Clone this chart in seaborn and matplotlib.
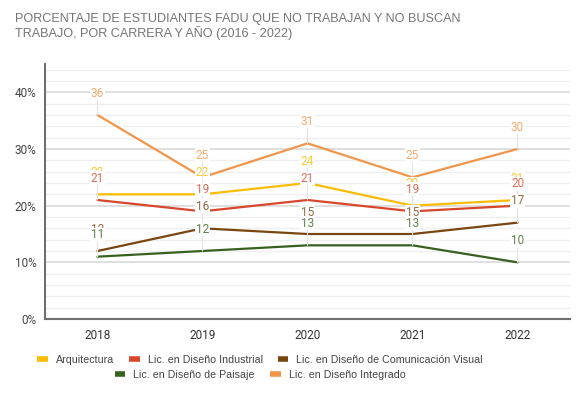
import numpy as np
import pandas as pd
import matplotlib
matplotlib.use('Agg')
import matplotlib.pyplot as plt
import seaborn as sns
from matplotlib.lines import Line2D
from matplotlib.colors import to_rgba

# Datos
anios = [2018, 2019, 2020, 2021, 2022]
carreras = ['Arquitectura', 'Lic. en Diseño Industrial',
            'Lic. en Diseño de Comunicación Visual',
            'Lic. en Diseño de Paisaje', 'Lic. en Diseño Integrado']
arquitectura = [22, 22, 24, 20, 21]
industrial = [21, 19, 21, 19, 20]
comunicacion = [12, 16, 15, 15, 17]
paisaje = [11, 12, 13, 13, 10]
integrado = [36, 25, 31, 25, 30]
colores = ['#fbbc04', '#d8462c', '#7a4610', '#38601f', '#f0954a']

valores = [arquitectura, industrial, comunicacion, paisaje, integrado]
df = pd.DataFrame({
    'anio': anios * len(carreras),
    'carrera': [c for c in carreras for _ in anios],
    'valor': [v for serie in valores for v in serie],
})
paleta = dict(zip(carreras, colores))

sns.set_style('white')
plt.rcParams['font.family'] = ['Liberation Sans', 'DejaVu Sans']

fig = plt.figure(figsize=(5.86, 3.97), dpi=100)
ax = fig.add_axes([45 / 586, 1 - 319 / 397, 525 / 586, 255 / 397])

sns.lineplot(data=df, x='anio', y='valor', hue='carrera', palette=paleta,
             hue_order=carreras, linewidth=1.6, legend=False, ax=ax, zorder=3)

# Etiquetas de datos con tallo
for carrera, serie, color in zip(carreras, valores, colores):
    rgba = to_rgba(color, 0.8)
    for x, y in zip(anios, serie):
        ax.annotate(str(y), xy=(x, y), xytext=(0, 15.8), textcoords='offset points',
                    ha='center', va='center', fontsize=8.5, color=rgba,
                    family='Roboto', zorder=5,
                    bbox=dict(boxstyle='square,pad=0.05', fc='white', ec='none'),
                    arrowprops=dict(arrowstyle='-', color='#e3e3e3', lw=0.8,
                                    shrinkA=0, shrinkB=0))

ax.set_xlim(2017.5, 2022.5)
ax.set_ylim(0, 45)
ax.set_xticks(anios)
ax.set_xticklabels([str(a) for a in anios], family='Roboto', fontsize=8.5, color='#333333')
ax.set_yticks([0, 10, 20, 30, 40])
ax.set_yticklabels(['0%', '10%', '20%', '30%', '40%'], family='Roboto', fontsize=8.5, color='#444444')
ax.set_yticks(np.arange(0, 45, 2), minor=True)
ax.grid(axis='y', which='minor', color='#efefef', lw=1.0, zorder=0)
ax.grid(axis='y', which='major', color='#d9d9d9', lw=1.2, zorder=0)
ax.tick_params(axis='y', which='both', length=0, pad=6)
ax.tick_params(axis='x', length=4, width=1, color='#333333', pad=3)
ax.set_xlabel('')
ax.set_ylabel('')
for s in ['top', 'right']:
    ax.spines[s].set_visible(False)
for s in ['left', 'bottom']:
    ax.spines[s].set_color('#6f6f6f')
    ax.spines[s].set_linewidth(1.5)
ax.set_axisbelow(True)

# Título
fig.text(15 / 586, 1 - 13 / 397,
         'PORCENTAJE DE ESTUDIANTES FADU QUE NO TRABAJAN Y NO BUSCAN\nTRABAJO, POR CARRERA Y AÑO (2016 - 2022)',
         ha='left', va='top', fontsize=9.1, color='#757575', linespacing=1.1)

# Leyenda en dos filas centradas
def fila(indices, ypos):
    handles = [Line2D([], [], color=colores[i], lw=4, solid_capstyle='butt') for i in indices]
    labels = [carreras[i] for i in indices]
    leg = fig.legend(handles, labels, loc='center', bbox_to_anchor=(260 / 586, ypos),
                     ncol=len(indices), frameon=False, fontsize=7.7, handlelength=1.0,
                     handletextpad=0.75, columnspacing=1.4, borderpad=0)
    for t in leg.get_texts():
        t.set_color('#444444')
    return leg

fila([0, 1, 2], 1 - 360 / 397)
fila([3, 4], 1 - 375 / 397)

fig.savefig('out.png', dpi=100)
